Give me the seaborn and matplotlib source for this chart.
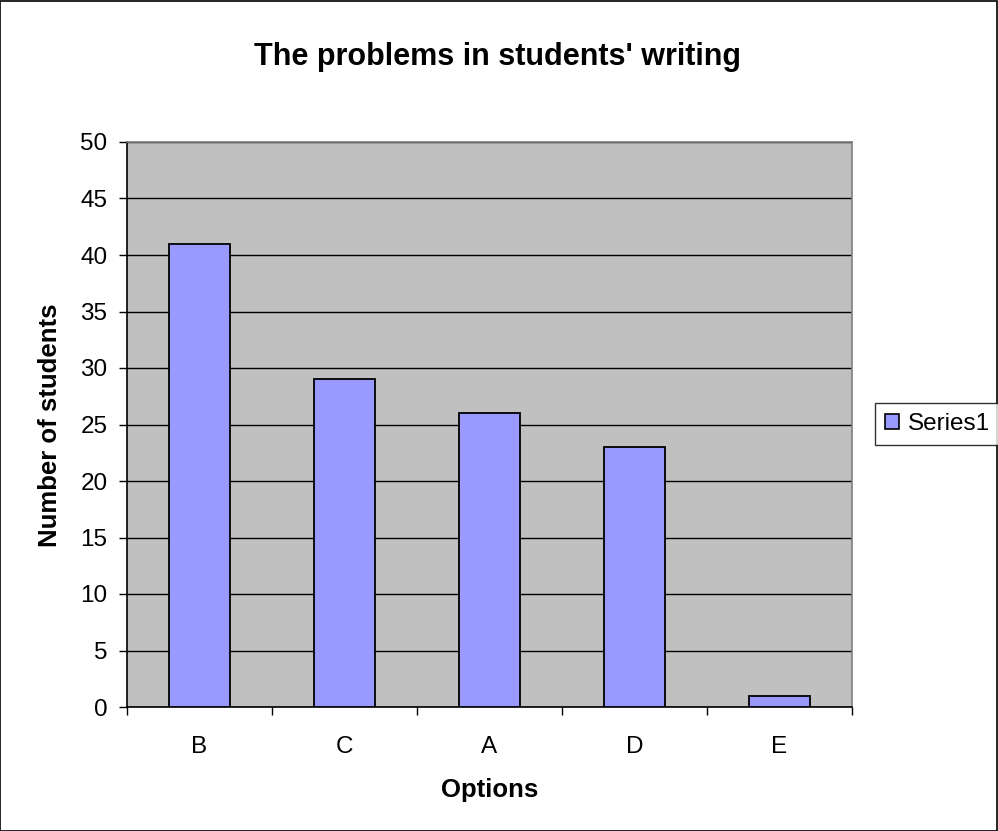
import matplotlib
matplotlib.use("Agg")
import matplotlib.pyplot as plt
import seaborn as sns
import pandas as pd
from matplotlib.patches import Rectangle, Patch
from matplotlib.ticker import FixedLocator, MultipleLocator

categories = ["B", "C", "A", "D", "E"]
values = [41, 29, 26, 23, 1]
series_name = "Series1"
title = "The problems in students' writing"
xlabel = "Options"
ylabel = "Number of students"

sns.set_theme(style="white")
plt.rcParams['font.family'] = ['Liberation Sans', 'DejaVu Sans']
plt.rcParams['text.color'] = 'black'
plt.rcParams['axes.labelcolor'] = 'black'
plt.rcParams['xtick.color'] = 'black'
plt.rcParams['ytick.color'] = 'black'

df = pd.DataFrame({"option": categories, "count": values})

fig = plt.figure(figsize=(9.98, 8.31), dpi=100)
ax = fig.add_axes([127/998, 1-707/831, (852-127)/998, (707-142)/831])
ax.set_facecolor("#C0C0C0")

sns.barplot(data=df, x="option", y="count", color="#9999FF", edgecolor="black",
            linewidth=1.3, width=0.42, saturation=1, ax=ax, zorder=3)

ax.set_ylim(0, 50)
ax.set_xlim(-0.5, len(categories) - 0.5)
ax.yaxis.set_major_locator(MultipleLocator(5))
ax.grid(axis="y", color="black", linewidth=1, zorder=0)
ax.set_axisbelow(True)

for s in ["top", "right"]:
    ax.spines[s].set_color("#808080")
    ax.spines[s].set_linewidth(1.2)
for s in ["left", "bottom"]:
    ax.spines[s].set_color("black")
    ax.spines[s].set_linewidth(1.2)

ax.tick_params(axis="y", which="major", direction="out", length=6, width=1,
               color="black", labelsize=17.5, pad=8, left=True)
ax.tick_params(axis="x", which="major", length=0, labelsize=17.5, pad=21)
ax.xaxis.set_minor_locator(FixedLocator([i - 0.5 for i in range(len(categories) + 1)]))
ax.tick_params(axis="x", which="minor", direction="out", length=6, width=1,
               color="black", bottom=True)

ax.set_xlabel("")
ax.set_ylabel("")
fig.text(490/998, 1-790/831, xlabel, fontsize=18.5, fontweight="bold",
         ha="center", va="center")
fig.text(50/998, 1-425/831, ylabel, fontsize=18.5, fontweight="bold",
         ha="center", va="center", rotation=90)

fig.text(498/998, 1-57/831, title, fontsize=22, fontweight="bold",
         ha="center", va="center")

handle = Patch(facecolor="#9999FF", edgecolor="black", linewidth=1.2)
leg = fig.legend([handle], [series_name], loc="center left",
                 bbox_to_anchor=(875/998, 1-424/831), fontsize=17.5,
                 frameon=True, fancybox=False, edgecolor="black",
                 handlelength=0.6, handleheight=0.6, handletextpad=0.35,
                 borderpad=0.4, borderaxespad=0)
leg.get_frame().set_linewidth(1)

fig.patches.append(Rectangle((0.0005, 0.0005), 0.998, 0.998, transform=fig.transFigure,
                             fill=False, edgecolor="black", linewidth=1.2))

fig.savefig("out.png", dpi=100, facecolor="white")
